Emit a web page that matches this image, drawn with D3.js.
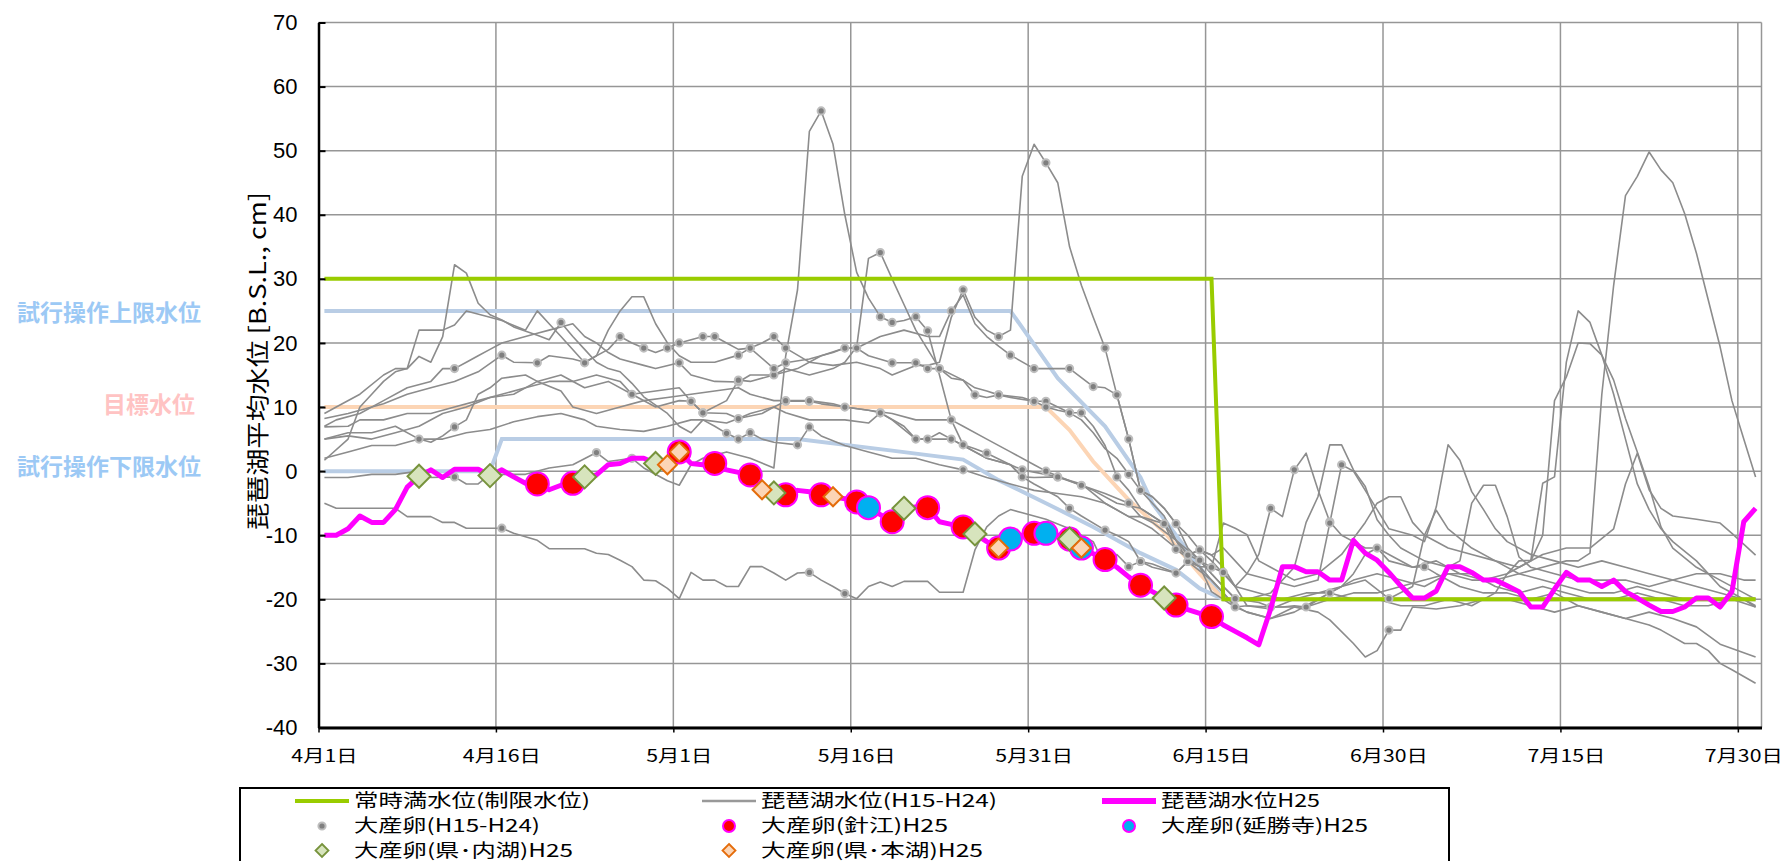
<!DOCTYPE html>
<html>
<head>
<meta charset="utf-8">
<script src="https://cdn.jsdelivr.net/npm/d3@7"></script>
<style>
  body { margin: 0; background: #fff; }
  text { font-family: "Noto Sans CJK JP", "Noto Sans", sans-serif; }
</style>
</head>
<body>
<div id="chart-area"></div>
<script>
// days are counted from 4/1 (0) to 7/31 (121)
var tickDays = [0, 15, 30, 45, 60, 75, 90, 105, 120];
var tickLabels = ["4月1日", "4月16日", "5月1日", "5月16日", "5月31日", "6月15日", "6月30日", "7月15日", "7月30日"];
var yTicks = [-40, -30, -20, -10, 0, 10, 20, 30, 40, 50, 60, 70];

// H25 daily lake level
var levelH25 = [-10, -10, -9, -7, -8, -8, -6, -2.5, -0.8, 0.2,
  -1, 0.3, 0.3, 0.3, -0.7, 0.2, -0.9, -1.9, -2, -2.9,
  -2.2, -1.9, -0.9, -0.6, 1, 1.2, 2, 2, 1.2, 1,
  3, 1.2, 1, 1.2, 0.2, -0.2, -0.6, -2.9, -3.4, -3.7,
  -3, -3.2, -3.7, -4, -4.3, -4.8, -5.7, -6.8, -7.9, -5.8,
  -5.6, -5.7, -7.9, -8.3, -8.7, -9.8, -11, -12, -10.6, -10,
  -9.7, -9.7, -10, -10.6, -12, -12.9, -13.8, -15, -16.5, -17.8,
  -18.8, -19.8, -20.9, -21.6, -22.2, -22.7, -24, -25, -26, -27.1,
  -21.5, -14.9, -14.9, -15.7, -15.7, -17, -17, -10.8, -12.8, -13.9,
  -15.8, -17.9, -19.8, -19.8, -18.7, -14.9, -14.9, -15.8, -17, -17,
  -17.9, -18.8, -21.2, -21.2, -18.4, -15.8, -17, -17, -18, -17,
  -18.8, -19.8, -20.9, -21.9, -21.9, -21.2, -19.8, -19.8, -21.2, -18.8,
  -7.9, -5.8];

// reference levels as [day, value]
var fullLevel = [[0, 30], [75, 30], [76, -20], [121, -20]];
var upperLimit = [[0, 25], [58, 25], [62, 14.5], [66, 7], [69, -1], [70, -5], [72, -10], [74, -15], [76, -20], [121, -20]];
var targetLevel = [[0, 10], [61, 10], [63, 6.4], [65, 1.5], [68, -4.5], [71, -9.5], [74, -16], [76, -20], [121, -20]];
var lowerLimit = [[0, 0], [14, 0], [15, 5], [40, 5], [48, 3.2], [54, 1.8], [57, -1.4], [61, -5], [65, -8.7], [69, -12.8], [72, -15.4], [74, -18.3], [76, -20], [121, -20]];

// H15-H24 lake levels, [day, value]
var pastLevels = [
  [[0,-1],[2,-1],[4,-0.5],[6,-0.5],[8,0],[9,-1],[11,-0.9],[12,-2],[13,-2],[14,-0.5],[17,-0.5],[19,0.5],[21,1],[23,2.9],[24,1.5],[26,2],[27,0.5],[29,-1.5],[30,-2.2],[31,1],[32,2],[34,3],[36,2],[38,0.5],[39,18],[40,28.3],[41,53],[42,56.2],[43,51],[44,40],[45,31],[46,27],[47,24.1],[48,23.2],[49,23.5],[50,24.1],[51,21.9],[52,15],[53,8],[54,4.1],[55,3.5],[56,2.8],[58,1],[59,0.2],[61,-0.5],[62,-0.9],[64,-2.2],[66,-3.5],[68,-5],[69,-7.1],[70,-8],[72,-10.8],[74,-13.9],[75,-16],[76,-18],[77,-19.9],[79,-20.5],[80,-21.2],[81,-21.2],[83,-21.2],[85,-19],[87,-17],[89,-16],[91,-17],[93,-18],[95,-16],[97,-16],[99,-18],[101,-19],[103,-18],[105,-19],[107,-20],[109,-20],[111,-19],[113,-20],[115,-21],[117,-21],[119,-20],[121,-21.2]],
  [[0,8.2],[2,9],[4,10],[5,10.5],[7,12],[9,13],[11,14],[13,15.5],[15,18.1],[16,17],[18,16.9],[19,18],[21,17.5],[22,17],[24,19],[25,21],[26,20],[27,19.2],[28,18.5],[29,19.2],[30,20],[31,20.5],[32,21],[33,21],[34,20],[35,19],[36,19.2],[37,20],[38,21],[39,19.2],[41,17],[43,16.5],[45,17],[47,16],[48,15],[50,16.5],[51,16.5],[52,17],[53,24],[54,28.3],[55,24],[56,22],[57,21],[58,22],[59,46],[60,51],[61,48.1],[62,45],[63,35],[64,29],[65,24],[66,19.2],[67,11.9],[68,5],[69,-3],[70,-5],[71,-7],[72,-10.8],[73,-13],[74,-14],[75,-15],[76,-8.1],[77,-8.9],[78,-9.9],[79,-14],[80,-15],[82,-17],[84,-16],[86,-13],[88,-8],[89,-5],[90,-4],[91,-4],[92,-8],[93,-10],[95,-12],[97,-13],[99,-14],[101,-15],[103,-13],[105,-12],[107,-12],[109,-9],[110,-2],[111,2.8],[112,-2.9],[113,-5.8],[114,-7],[116,-7.5],[118,-8.1],[119,-9.7],[121,-13.1]],
  [[0,6.9],[2,7],[3,8],[5,8],[7,9],[9,9],[11,10],[13,11],[15,12],[17,13],[19,14],[21,14],[23,15],[25,14],[26,12],[28,12.5],[30,13],[31,10.9],[32,9.1],[34,9],[35,8.2],[36,9],[38,10],[39,10.9],[41,10.9],[42,10.5],[44,10],[46,9.5],[47,9.1],[48,8],[50,5],[51,5],[53,5],[54,4],[55,3],[56,2],[58,1],[59,-0.9],[60,-2],[62,-4],[63,-5.8],[64,-7],[66,-9.2],[67,-10],[68,-11],[69,-14.1],[70,-14.5],[72,-15.9],[73,-14.1],[74,-14.9],[75,-17],[76,-19],[77,-21.2],[78,-21],[80,-21.2],[81,-21.2],[82,-21],[83,-21.2],[85,-20],[87,-19],[89,-19],[91,-18],[93,-17],[95,-16],[97,-17],[99,-17],[101,-16],[103,-15],[105,-14],[106,-14],[107,-12.8],[108,12],[109,29],[110,43],[111,46],[112,49.8],[113,47],[114,45],[115,40.2],[116,34],[117,26.7],[118,19.4],[119,11],[120,5],[121,-0.9]],
  [[0,1.7],[2,5],[3,10],[4,12],[5,14],[6,15.5],[7,16],[8,17.9],[9,17],[10,21],[11,32.2],[12,30.9],[13,26.2],[14,24.4],[15,23.6],[16,22.5],[18,21.2],[19,20.5],[20,23.2],[21,21],[22,19],[23,17],[24,16],[25,15.5],[26,13.7],[27,11.6],[29,9],[30,7],[31,6],[32,8],[33,7],[34,5.9],[35,5],[36,6],[37,5],[38,4.5],[40,4.1],[41,6.9],[42,5.5],[44,4],[46,3],[48,2],[50,2],[52,1],[54,0.2],[56,-1],[58,-2],[60,-3],[62,-3.5],[64,-4],[66,-5],[68,-7.1],[69,-7.1],[71,-8.2],[72,-12.2],[74,-14.9],[75,-15],[76,-15.8],[77,-18],[78,-16],[79,-13],[80,-5.8],[81,-7.1],[82,0.2],[83,2.8],[84,-2.9],[85,-7.9],[86,-10],[87,-11],[88,-12],[89,-12],[90,-13],[92,-15],[93,-14.9],[94,-16],[96,-18],[98,-19],[100,-19],[102,-20],[104,-19],[106,-21],[108,-22],[110,-23],[112,-22],[114,-23],[116,-24.3],[118,-27],[121,-29]],
  [[0,7],[1,8],[3,9],[5,11],[7,13],[9,14],[10,16],[11,16],[12,17],[13,18],[14,19],[15,20],[16,20.5],[17,21],[18,21.5],[19,22],[20,22.5],[21,23],[22,21],[23,20],[24,18.5],[25,17.5],[27,16.5],[28,16],[30,16.9],[31,15],[33,14],[35,13.9],[36,15],[38,15],[39,16],[41,15],[43,16],[44,17],[45,19.4],[46,33.2],[47,34.1],[48,30],[49,26],[50,22],[51,19],[52,16],[53,14.5],[54,14.2],[55,11.9],[56,11.5],[57,11.9],[59,11.5],[60,10.9],[61,10.9],[62,10],[63,9.1],[64,9.1],[65,7],[66,4],[67,-0.9],[68,-3],[69,-5.8],[70,-7],[71,-8.2],[72,-10.8],[73,-14.1],[74,-14.9],[75,-18.8],[76,-20],[77,-21.2],[78,-22],[80,-23],[82,-22],[84,-20],[85,-19],[86,-18],[88,-17],[90,-19.9],[92,-18],[93,-10],[94,-6.1],[95,-9],[97,-12],[99,-14],[101,-16],[103,-17],[105,-18],[107,-19],[109,-19],[111,-18],[113,-19],[115,-20],[117,-20],[119,-20],[121,-20]],
  [[0,5],[2,6],[4,6],[6,7],[8,5],[9,4.5],[10,5.5],[11,6.9],[12,8],[13,12],[14,13],[15,14.5],[17,15],[18,14],[20,15],[22,13],[24,14],[26,12],[28,10],[30,11],[31,10.9],[32,9.1],[34,11],[35,14.2],[36,14],[38,15],[40,16],[42,18],[44,19.2],[45,19.2],[47,21],[49,22],[51,21],[52,21],[53,25],[54,27.5],[55,23],[56,21],[57,19.5],[58,18.1],[60,16],[63,16],[65,13.2],[66,13],[67,11.9],[68,5],[69,-3],[70,-4],[71,-5.8],[72,-8.2],[73,-12],[74,-13.9],[75,-16],[76,-18],[77,-19.9],[78,-20],[80,-19],[82,-15],[83,-8],[84,-4],[85,4.1],[86,4.1],[87,0.2],[88,-2.4],[89,-7.6],[90,-10],[91,-12],[93,-14],[95,-15],[96,-14],[97,-5],[98,-2.2],[99,-2.2],[100,-7.1],[101,-13.4],[102,-15],[104,-16],[106,-17],[108,-17],[110,-17],[112,-18],[114,-17],[116,-16],[118,-16],[120,-17],[121,-17]],
  [[0,5],[2,5.5],[4,5],[6,6],[8,7],[10,9],[12,10],[14,11.5],[16,12],[18,14],[20,12.5],[21,10],[23,9],[25,10],[27,11],[29,11.5],[31,12],[33,12.5],[35,13],[36,12],[38,11],[39,11],[41,11],[43,10.5],[44,10],[46,9.5],[48,9],[50,8],[53,8],[54,7],[56,5],[58,3],[60,1],[61,0],[63,-1.5],[65,-3],[67,-5],[69,-5.8],[70,-7],[71,-8.2],[72,-10.8],[73,-13.1],[74,-12.3],[75,-13.1],[76,-15],[77,-18],[79,-19],[81,-20],[83,-19],[85,-19],[87,-20],[89,-20],[91,-21],[93,-21],[95,-20],[97,-21],[99,-19],[100,-16],[101,-14],[102,-13.9],[103,-1.9],[104,-0.9],[105,17],[106,25],[107,23.2],[108,18.1],[109,14.2],[110,8.2],[111,3],[112,-2.4],[113,-8.7],[114,-12],[116,-15],[118,-17],[120,-19],[121,-20]],
  [[0,2],[2,3],[4,4],[6,4],[8,5],[10,5],[12,6],[14,6.5],[16,7.7],[18,8.5],[20,9],[22,8],[23,7],[25,6.5],[27,6.2],[29,7],[31,8],[32,8],[34,7.5],[35,8.2],[37,9],[38,10],[39,9.1],[41,8],[44,8],[46,7.5],[47,9.1],[49,7],[50,5],[51,5],[52,6],[53,5],[54,4],[56,2],[58,1],[59,-0.9],[60,-1],[62,-0.9],[64,-2],[66,-5],[68,-7.1],[69,-8],[70,-9],[72,-12],[73,-13.1],[74,-12.3],[75,-14],[76,-16],[77,-18],[78,-21],[80,-21.5],[82,-20],[84,-19],[86,-18],[87,-16],[88,-13],[89,-12],[90,-14],[92,-15],[94,-14],[95,-15],[96,-16],[98,-17],[100,-16],[102,-14],[103,-10],[104,11],[105,14.7],[106,20],[107,19.9],[108,18.1],[109,12],[110,5],[111,-2],[112,-6],[113,-9],[114,-11],[116,-14],[118,-18],[120,-20],[121,-21.2]],
  [[0,-5],[1,-5.8],[6,-5.8],[7,-7.1],[9,-7.1],[10,-8],[11,-8],[12,-8.9],[15,-8.9],[16,-9.7],[18,-10.8],[19,-12.1],[22,-12.1],[23,-12.8],[24,-13],[25,-13.9],[26,-14.9],[27,-17],[28,-17.1],[29,-18.3],[30,-19.9],[31,-15.8],[32,-17],[33,-17],[34,-18],[35,-18],[36,-14.9],[37,-14.9],[38,-15.9],[39,-17],[40,-15.9],[41,-15.8],[42,-17],[43,-18],[44,-19.1],[45,-19.9],[46,-18],[47,-17.3],[48,-18],[49,-17.2],[51,-17.2],[52,-18.9],[54,-18.9],[55,-12.3],[56,-8.7],[57,-7],[58,-6],[59,-6.5],[61,-7.5],[63,-9],[65,-11],[66,-14.9],[67,-13],[68,-14.9],[69,-14.1],[70,-15],[72,-15.9],[73,-14.1],[75,-17],[76,-19],[77,-21],[78,-22],[80,-23],[82,-21.2],[84,-22],[85,-23.2],[87,-26.9],[88,-29],[89,-28],[90,-24.8],[91,-24.8],[92,-21.2],[94,-21.5],[96,-21],[98,-20],[100,-20],[102,-21],[104,-22],[106,-21],[108,-22],[110,-23],[112,-24],[113,-24.8],[115,-26.9],[116,-26.9],[117,-28],[118,-30],[119,-31],[121,-33.1]],
  [[0,9],[1,10],[3,12],[5,15],[6,16],[7,16],[8,22],[10,22],[11,22.8],[12,25],[14,24],[15,23.5],[17,22],[18,25],[19,23],[20,21],[22,16.9],[23,18],[24,22],[25,25],[26,27.2],[27,27.2],[28,23],[29,20],[30,18],[31,17],[33,17],[35,18.1],[36,19.2],[38,16],[39,16.9],[41,17.5],[43,18.5],[44,19.2],[45,19.2],[46,18],[48,16.9],[50,16.9],[51,16],[52,16],[54,14.2],[55,13],[56,12.5],[57,11.9],[58,11.5],[60,10.9],[61,10],[62,9.5],[63,9.1],[64,8],[65,6],[66,3.5],[67,2],[68,-0.5],[69,-3],[70,-4],[71,-5.8],[72,-8.2],[73,-10],[74,-12.3],[75,-13.1],[76,-12],[77,-14],[78,-16],[80,-17],[82,-18],[84,-17],[85,-8.1],[86,1],[87,0],[88,-3],[89,-6],[90,-9],[92,-10],[93,-11],[94,-5.6],[95,4.1],[96,1.7],[97,-3.2],[98,-6],[99,-9],[100,-11],[102,-13],[104,-14],[106,-15],[108,-14],[110,-15],[112,-16],[114,-17],[116,-18],[118,-19],[120,-20],[121,-21]]
];

// big spawning days in H15-H24, per series
var pastSpawnDays = [
  [11, 23, 26, 42, 47, 48, 50, 51, 53, 54, 56, 59, 62, 64, 68, 77, 80],
  [15, 18, 25, 27, 29, 30, 32, 33, 36, 38, 39, 54, 57, 61, 66, 67, 75],
  [26, 31, 32, 35, 39, 41, 47, 50, 51, 53, 63, 66, 69, 73, 83],
  [20, 34, 35, 36, 40, 41, 54, 72, 76, 80, 82, 85, 89, 93],
  [11, 30, 35, 38, 47, 55, 57, 60, 61, 63, 64, 67, 71, 73, 77, 85, 90],
  [8, 11, 31, 32, 35, 44, 45, 53, 58, 60, 63, 65, 67, 68, 69, 72, 74],
  [39, 41, 44, 61, 73],
  [47, 59, 62, 74],
  [15, 41, 44, 66, 68, 69, 72, 90],
  [22, 35, 36, 38, 39, 48, 50, 51, 52, 57, 60, 61, 63, 68, 85, 86]
];

// H25 big spawning days
var spawnHarie = [18, 21, 30, 33, 36, 39, 42, 45, 48, 51, 54, 57, 60, 63, 66, 69, 72, 75];
var spawnEnshoji = [46, 58, 61, 64];
var spawnNaiko = [8, 14, 22, 28, 38, 49, 55, 63, 71];
var spawnHonko = [29, 30, 37, 43, 57, 64];

var W = 1782, H = 861;

var svg = d3.select("#chart-area")
    .append("svg")
        .attr("width", W)
        .attr("height", H);

var x = d3.scaleLinear().domain([0, 122]).range([318.5, 1761.5]);
var y = d3.scaleLinear().domain([-40, 70]).range([727.5, 22.5]);
function cx(d){ return x(d + 0.5); }

function valueAt(series, day){
    for (var i = 0; i < series.length - 1; i++) {
        var a = series[i], b = series[i + 1];
        if (day >= a[0] && day <= b[0]) {
            return a[1] + (b[1] - a[1]) * (day - a[0]) / (b[0] - a[0]);
        }
    }
    return series[series.length - 1][1];
}

function stretch(sel, k){
    sel.each(function(){
        var w = this.getComputedTextLength();
        d3.select(this).attr("textLength", w * k).attr("lengthAdjust", "spacingAndGlyphs");
    });
}

// Grid
var grid = svg.append("g");
grid.selectAll(".hgrid")
    .data(yTicks)
    .enter().append("line")
        .attr("x1", x(0)).attr("x2", x(122))
        .attr("y1", function(d){ return y(d); })
        .attr("y2", function(d){ return y(d); })
        .attr("stroke", "#969696")
        .attr("stroke-width", 1.5);
grid.selectAll(".vgrid")
    .data(tickDays.slice(1).concat([122]))
    .enter().append("line")
        .attr("x1", function(d){ return x(d); })
        .attr("x2", function(d){ return x(d); })
        .attr("y1", y(70)).attr("y2", y(-40))
        .attr("stroke", "#969696")
        .attr("stroke-width", 1.5);

var stepLine = d3.line()
    .x(function(d){ return cx(d[0]); })
    .y(function(d){ return y(d[1]); });

// Reference levels
svg.append("path").datum(lowerLimit)
    .attr("d", stepLine).attr("fill", "none")
    .attr("stroke", "#b9cde5").attr("stroke-width", 4);
svg.append("path").datum(upperLimit)
    .attr("d", stepLine).attr("fill", "none")
    .attr("stroke", "#b9cde5").attr("stroke-width", 4);
svg.append("path").datum(targetLevel)
    .attr("d", stepLine).attr("fill", "none")
    .attr("stroke", "#fcd5b5").attr("stroke-width", 4);

// Past years
svg.append("g").selectAll("path")
    .data(pastLevels)
    .enter().append("path")
        .attr("d", stepLine)
        .attr("fill", "none")
        .attr("stroke", "#8c8c8c")
        .attr("stroke-width", 1.6)
        .attr("stroke-linejoin", "round");

// Full level (limit)
svg.append("path").datum(fullLevel)
    .attr("d", stepLine).attr("fill", "none")
    .attr("stroke", "#99cc00").attr("stroke-width", 4);

// Past spawning dots
var dots = [];
pastSpawnDays.forEach(function(days, i){
    days.forEach(function(d){ dots.push([d, valueAt(pastLevels[i], d)]); });
});
svg.append("g").selectAll("circle")
    .data(dots)
    .enter().append("circle")
        .attr("cx", function(d){ return cx(d[0]); })
        .attr("cy", function(d){ return y(d[1]); })
        .attr("r", 3.6)
        .attr("fill", "#7f7f7f")
        .attr("stroke", "#bdbdbd")
        .attr("stroke-width", 2);

// H25 level
var lineH25 = d3.line()
    .x(function(d, i){ return cx(i); })
    .y(function(d){ return y(d); });
svg.append("path").datum(levelH25)
    .attr("d", lineH25).attr("fill", "none")
    .attr("stroke", "#ff00ff").attr("stroke-width", 5)
    .attr("stroke-linejoin", "round");

function diamond(s){ return "M0," + (-s) + "L" + s + ",0L0," + s + "L" + (-s) + ",0Z"; }

svg.append("g").selectAll("circle")
    .data(spawnHarie)
    .enter().append("circle")
        .attr("cx", function(d){ return cx(d); })
        .attr("cy", function(d){ return y(levelH25[d]); })
        .attr("r", 11.5)
        .attr("fill", "#ff0000")
        .attr("stroke", "#ff00ff")
        .attr("stroke-width", 2);

svg.append("g").selectAll("circle")
    .data(spawnEnshoji)
    .enter().append("circle")
        .attr("cx", function(d){ return cx(d); })
        .attr("cy", function(d){ return y(levelH25[d]); })
        .attr("r", 11.5)
        .attr("fill", "#00b0f0")
        .attr("stroke", "#ff00ff")
        .attr("stroke-width", 2);

svg.append("g").selectAll("path")
    .data(spawnNaiko)
    .enter().append("path")
        .attr("d", diamond(11.5))
        .attr("transform", function(d){ return "translate(" + cx(d) + "," + y(levelH25[d]) + ")"; })
        .attr("fill", "#d7e4bd")
        .attr("stroke", "#77933c")
        .attr("stroke-width", 2);

svg.append("g").selectAll("path")
    .data(spawnHonko)
    .enter().append("path")
        .attr("d", diamond(9.5))
        .attr("transform", function(d){ return "translate(" + cx(d) + "," + y(levelH25[d]) + ")"; })
        .attr("fill", "#fcd5b5")
        .attr("stroke", "#e46c0a")
        .attr("stroke-width", 2);

// Y axis
var yAxisCall = d3.axisLeft(y)
    .tickValues(yTicks)
    .tickSizeInner(-7)
    .tickSizeOuter(0)
    .tickPadding(21)
    .tickFormat(function(d){ return String(d); });
var yAxisG = svg.append("g")
    .attr("transform", "translate(" + x(0) + ",0)")
    .call(yAxisCall);
yAxisG.select(".domain").attr("stroke", "#000").attr("stroke-width", 2.5);
yAxisG.selectAll(".tick line").attr("stroke", "#000").attr("stroke-width", 2);
yAxisG.selectAll(".tick text")
    .attr("fill", "#000")
    .style("font-family", "'Liberation Sans', Arial, sans-serif")
    .style("font-size", "22px");

// X axis
var xAxisCall = d3.axisBottom(x)
    .tickValues(tickDays)
    .tickSize(5)
    .tickSizeOuter(0)
    .tickFormat("");
var xAxisG = svg.append("g")
    .attr("transform", "translate(0," + y(-40) + ")")
    .call(xAxisCall);
xAxisG.select(".domain").attr("stroke", "#000").attr("stroke-width", 3);
xAxisG.selectAll(".tick line").attr("stroke", "#000").attr("stroke-width", 1.5);

var xLabels = svg.append("g").selectAll("text")
    .data(tickDays)
    .enter().append("text")
        .attr("x", function(d){ return cx(d); })
        .attr("y", 756)
        .attr("dy", "0.35em")
        .attr("text-anchor", "middle")
        .attr("font-size", "17px")
        .attr("fill", "#000")
        .text(function(d, i){ return tickLabels[i]; });
stretch(xLabels, 1.25);

// Y Label
svg.append("text")
    .attr("transform", "translate(258,361) rotate(-90)")
    .attr("dy", "0.35em")
    .attr("text-anchor", "middle")
    .attr("font-size", "23px")
    .attr("fill", "#000")
    .attr("textLength", 338)
    .attr("lengthAdjust", "spacingAndGlyphs")
    .text("琵琶湖平均水位 [B.S.L., cm]");

// Side labels
var sideLabels = [
    { text: "試行操作上限水位", x: 201, y: 313, color: "#9cc9f5" },
    { text: "目標水位", x: 195, y: 405, color: "#ffc3c3" },
    { text: "試行操作下限水位", x: 201, y: 467, color: "#9cc9f5" }
];
svg.append("g").selectAll("text")
    .data(sideLabels)
    .enter().append("text")
        .attr("x", function(d){ return d.x; })
        .attr("y", function(d){ return d.y; })
        .attr("dy", "0.35em")
        .attr("text-anchor", "end")
        .attr("font-size", "23px")
        .attr("font-weight", "bold")
        .attr("fill", function(d){ return d.color; })
        .text(function(d){ return d.text; });

// Legend
var legend = svg.append("g");
legend.append("rect")
    .attr("x", 240).attr("y", 788)
    .attr("width", 1209).attr("height", 120)
    .attr("fill", "#fff")
    .attr("stroke", "#000")
    .attr("stroke-width", 2);

var legendItems = [
    { label: "常時満水位(制限水位)", col: 0, row: 0, kind: "line", color: "#99cc00", w: 4, tw: 236 },
    { label: "琵琶湖水位(H15-H24)", col: 1, row: 0, kind: "line", color: "#999999", w: 2.5, tw: 236 },
    { label: "琵琶湖水位H25", col: 2, row: 0, kind: "line", color: "#ff00ff", w: 6, tw: 159 },
    { label: "大産卵(H15-H24)", col: 0, row: 1, kind: "dot", tw: 186 },
    { label: "大産卵(針江)H25", col: 1, row: 1, kind: "circle", color: "#ff0000", tw: 187 },
    { label: "大産卵(延勝寺)H25", col: 2, row: 1, kind: "circle", color: "#00b0f0", tw: 207 },
    { label: "大産卵(県･内湖)H25", col: 0, row: 2, kind: "diamond", color: "#d7e4bd", edge: "#77933c", tw: 219 },
    { label: "大産卵(県･本湖)H25", col: 1, row: 2, kind: "diamond", color: "#fcd5b5", edge: "#e46c0a", tw: 222 }
];
var colX = [295, 702, 1102];
var rowY = [801, 826, 850.5];

legendItems.forEach(function(it){
    var x0 = colX[it.col], yy = rowY[it.row], mid = x0 + 27;
    if (it.kind === "line") {
        legend.append("line")
            .attr("x1", x0).attr("x2", x0 + 54)
            .attr("y1", yy).attr("y2", yy)
            .attr("stroke", it.color).attr("stroke-width", it.w);
    } else if (it.kind === "dot") {
        legend.append("circle")
            .attr("cx", mid).attr("cy", yy).attr("r", 3.6)
            .attr("fill", "#7f7f7f").attr("stroke", "#bdbdbd").attr("stroke-width", 2);
    } else if (it.kind === "circle") {
        legend.append("circle")
            .attr("cx", mid).attr("cy", yy).attr("r", 6)
            .attr("fill", it.color).attr("stroke", "#ff00ff").attr("stroke-width", 2);
    } else {
        legend.append("path")
            .attr("d", diamond(6.5))
            .attr("transform", "translate(" + mid + "," + yy + ")")
            .attr("fill", it.color).attr("stroke", it.edge).attr("stroke-width", 1.8);
    }
    legend.append("text")
        .attr("x", x0 + 59)
        .attr("y", yy)
        .attr("dy", "0.35em")
        .attr("font-size", "18px")
        .attr("fill", "#000")
        .attr("textLength", it.tw)
        .attr("lengthAdjust", "spacingAndGlyphs")
        .text(it.label);
});
</script>
</body>
</html>
